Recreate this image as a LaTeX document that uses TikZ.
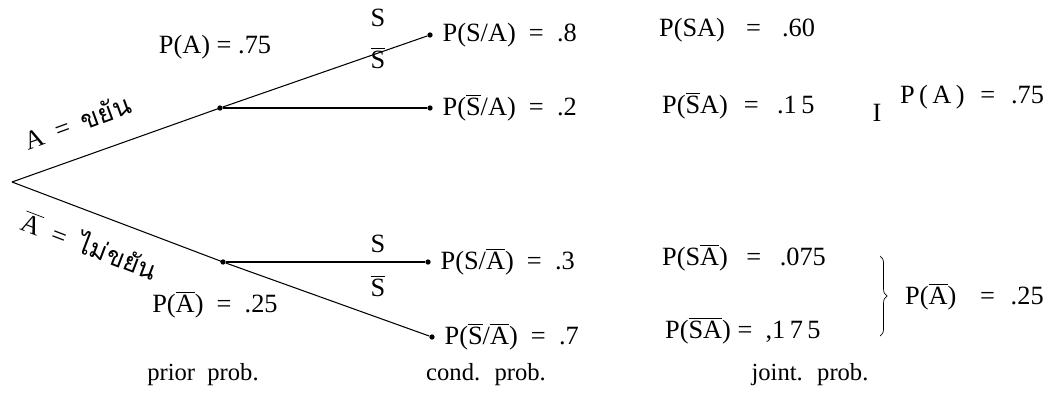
\documentclass[tikz,border=0pt]{standalone}
\usepackage{fontspec}
\setmainfont{Liberation Serif}
\newfontfamily\thaifont[Script=Thai]{Loma}
\usepackage{tikz}
\usetikzlibrary{positioning, decorations.pathreplacing}

% bar over a letter, in the text font
\newcommand{\nb}[1]{$\overline{\mbox{#1}}$}

\begin{document}
\begin{tikzpicture}[x=0.02cm, y=-0.02cm,
  txt/.style={inner sep=1pt, font=\fontsize{15}{17}\selectfont},
  captxt/.style={inner sep=1pt, font=\fontsize{14}{16}\selectfont},
  dot/.style={circle, fill, inner sep=0pt, minimum size=3pt},
  branch/.style={semithick},
]
\useasboundingbox (0,0) rectangle (1053,393);

% tree points
\node[inner sep=0pt] (root) at (12,182) {};
\node[dot] (upA) at (220,108) {};
\node[dot] (loA) at (223,262) {};
\node[dot] (sa) at (430,35) {};
\node[dot] (nsa) at (430,108) {};
\node[dot] (sna) at (428,262) {};
\node[dot] (nsna) at (432,337) {};

\draw[branch] (root.center) -- (upA.center);
\draw[branch] (root.center) -- (loA.center);
\draw[branch] (upA) -- (sa);
\draw[branch] (upA) -- (nsa);
\draw[branch] (loA) -- (sna);
\draw[branch] (loA) -- (nsna);

% branch labels
\node[txt, rotate=20] (lblA) at (77,122) {A \ = \ {\thaifont ขยัน}};
\node[txt, rotate=-21] (lblnA) at (90,244) {\nb{A} \ = \ {\thaifont ไม่ขยัน}};
\node[txt] (pA) at (215,47) {P(A) = .75};
\node[txt] (pnA) at (215,305) {P(\nb{A})\enspace=\enspace.25};
\node[txt] (s1) at (378,18) {S};
\node[txt] (s2) at (378,58) {\nb{S}};
\node[txt] (s3) at (378,244) {S};
\node[txt] (s4) at (378,286) {\nb{S}};

% conditional probabilities
\node[txt, right=0.15cm of sa] (csa) {P(S/A) \ = \ .8};
\node[txt, right=0.15cm of nsa] (cnsa) {P(\nb{S}/A) \ = \ .2};
\node[txt, right=0.15cm of sna] (csna) {P(S/\nb{A}) \ = \ .3};
\node[txt, right=0.15cm of nsna] (cnsna) {P(\nb{S}/\nb{A}) \ = \ .7};

% joint probabilities
\node[txt, anchor=west] (jsa) at (657,30) {P(SA)\hspace{0.8em}=\hspace{0.8em}.60};
\node[txt, anchor=west] (jnsa) at (660,106) {P(\nb{S}A)\hspace{0.6em}=\hspace{0.7em}.1\,5};
\node[txt, anchor=west] (jsna) at (660,258) {P(S\nb{A})\hspace{0.7em}=\hspace{0.7em}.075};
\node[txt, anchor=west] (jnsna) at (663,331) {P(\nb{S}\nb{A}) = \ ,1\,7\,5};

% marginals
\node[txt] (bar) at (877,113) {I};
\node[txt, anchor=west] (mA) at (898,97) {P\,(\,A\,)\hspace{0.6em}=\hspace{0.6em}.75};
\draw[thin, decorate, decoration={brace, amplitude=4pt}] (880,256) -- (880,336);
\node[txt, anchor=west] (mnA) at (903,297) {P(\nb{A})\hspace{0.9em}=\hspace{0.6em}.25};

% column captions
\node[captxt] (prior) at (203,375) {prior \ prob.};
\node[captxt] (cond) at (486,375) {cond. \ prob.};
\node[captxt] (joint) at (810,375) {joint. \ prob.};
\end{tikzpicture}
\end{document}
